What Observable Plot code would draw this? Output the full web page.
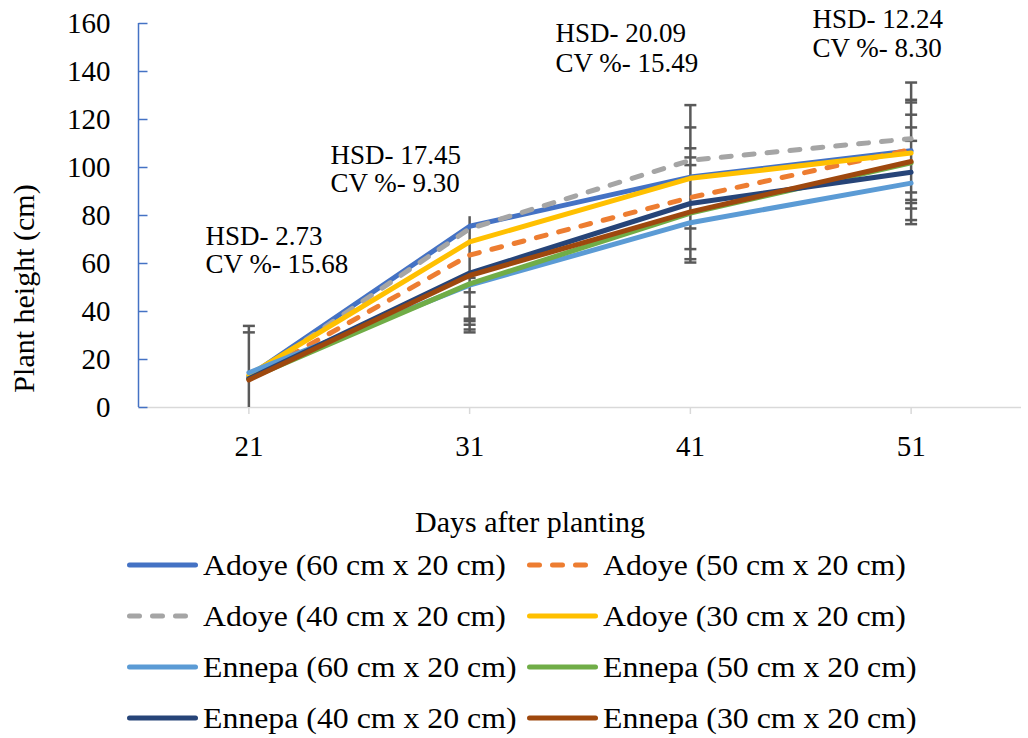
<!DOCTYPE html>
<html>
<head>
<meta charset="utf-8">
<script src="https://cdn.jsdelivr.net/npm/d3@7"></script>
<script src="https://cdn.jsdelivr.net/npm/@observablehq/plot@0.6"></script>
<style>
  html, body { margin: 0; padding: 0; background: #fff; overflow: hidden; }
  body { font-family: "Liberation Serif", "DejaVu Serif", serif; color: #000; }
  #legend { position: relative; width: 1028px; height: 203px; }
  .item { position: absolute; display: flex; align-items: center; height: 51px; font-size: 30px; white-space: nowrap; }
  .item svg { margin-right: 5px; overflow: visible; }
  .item span { display: inline-block; transform: scaleX(1.06); transform-origin: left center; }
</style>
</head>
<body>
<div id="chart"></div>
<div id="legend"></div>
<script>
// ---- data ----
const days = [21, 31, 41, 51];
const seriesNames = [
  "Adoye (60 cm x 20 cm)", "Adoye (50 cm x 20 cm)",
  "Adoye (40 cm x 20 cm)", "Adoye (30 cm x 20 cm)",
  "Ennepa (60 cm x 20 cm)", "Ennepa (50 cm x 20 cm)",
  "Ennepa (40 cm x 20 cm)", "Ennepa (30 cm x 20 cm)"
];
const adoye60 = [13, 75.5, 96, 107];
const adoye50 = [12, 63.5, 87.5, 107.5];
const adoye40 = [12, 74.5, 103, 112];
const adoye30 = [13.5, 69, 95.5, 106];
const ennepa60 = [14.5, 51, 77, 93.5];
const ennepa50 = [12, 51.5, 81, 102];
const ennepa40 = [12, 56, 85, 98];
const ennepa30 = [11.5, 55, 81.5, 102.5];
const hsd = ["2.73", "17.45", "20.09", "12.24"];
const cvPct = ["15.68", "9.30", "15.49", "8.30"];
// error bar extent per day and the cap values seen on each bar
const errTop = [34, 79.5, 126, 135.4];
const errBottom = [0, 31.3, 60.4, 76.4];
const caps21 = [34, 31.3];
const caps31 = [54, 48, 42, 37, 36, 34.5, 32.5, 31.3];
const caps41 = [126, 116.7, 108, 104.2, 101, 74.6, 66, 61.8, 60.4];
const caps51 = [135.4, 128.2, 127.1, 122, 116.7, 111.1, 89.6, 86.5, 85.2, 82.9, 78.1, 76.4];
const yTicks = [0, 20, 40, 60, 80, 100, 120, 140, 160];
const xLabel = "Days after planting";
const yLabel = "Plant height (cm)";

// ---- styles ----
const FONT = "'Liberation Serif', 'DejaVu Serif', serif";
const values = [adoye60, adoye50, adoye40, adoye30, ennepa60, ennepa50, ennepa40, ennepa30];
const colors = ["#4472C4", "#ED7D31", "#A5A5A5", "#FFC000", "#5B9BD5", "#70AD47", "#264478", "#9E480E"];
const dashed = [false, true, true, false, false, false, false, false];
const DASH = "10,13";
const LW = 5;

const rows = seriesNames.map((name, i) => days.map((d, j) => ({name, day: d, value: values[i][j]})));
const bars = days.map((d, j) => ({day: d, lo: errBottom[j], hi: errTop[j]}));
const capRows = [caps21, caps31, caps41, caps51].flatMap((cs, j) => cs.map(v => ({day: days[j], v})));

const capSymbol = {draw(ctx) { ctx.moveTo(-6, 0); ctx.lineTo(6, 0); }};
const inTick = {draw(ctx) { ctx.moveTo(0, 0); ctx.lineTo(9, 0); }};

// annotation layout (positions in data units of the chart)
const annX = [19.04, 24.7, 34.89, 46.53];
const annY1 = [71.5, 104.9, 156.1, 161.9];
const annY2 = [59.8, 93.2, 143.2, 149.5];
const ann1 = days.map((d, j) => ({x: annX[j], y: annY1[j], t: "HSD- " + hsd[j]}));
const ann2 = days.map((d, j) => ({x: annX[j], y: annY2[j], t: "CV %- " + cvPct[j]}));

const marks = [
  Plot.ruleY([0], {stroke: "#d9d9d9", strokeWidth: 1.5}),
  Plot.axisX({ticks: days, tickSize: 7, stroke: "#d9d9d9", text: null, strokeWidth: 1.5}),
  Plot.axisX({ticks: days, tickSize: 0, tickPadding: 28, fontSize: 29, fill: "#000", label: null}),
  Plot.axisY({ticks: yTicks, tickSize: 0, tickPadding: 28, fontSize: 29, fill: "#000", label: null}),
  Plot.ruleX([16], {y1: 0, y2: 160, stroke: "#4472C4", strokeWidth: 1.5}),
  Plot.dot(yTicks, {x: 16, y: d => d, symbol: inTick, stroke: "#4472C4", strokeWidth: 1.5, fill: "none", r: 5}),
  Plot.ruleX(bars, {x: "day", y1: "lo", y2: "hi", stroke: "#595959", strokeWidth: 2.5}),
  Plot.dot(capRows, {x: "day", y: "v", symbol: capSymbol, stroke: "#595959", strokeWidth: 2.5, fill: "none", r: 5}),
  ...rows.map((r, i) => Plot.line(r, {
    x: "day", y: "value", stroke: colors[i], strokeWidth: LW,
    strokeDasharray: dashed[i] ? DASH : null, strokeLinecap: "round", strokeLinejoin: "round"
  })),
  Plot.text(ann1, {x: "x", y: "y", text: "t", textAnchor: "start", fontSize: 27, fill: "#000"}),
  Plot.text(ann2, {x: "x", y: "y", text: "t", textAnchor: "start", fontSize: 27, fill: "#000"}),
  Plot.text([xLabel], {frameAnchor: "bottom", textAnchor: "middle", lineAnchor: "middle", dx: -50, dy: 115, fontSize: 30, fill: "#000"}),
  Plot.text([yLabel], {frameAnchor: "left", textAnchor: "middle", lineAnchor: "middle", rotate: -90, dx: -114, dy: 73, fontSize: 30, fill: "#000"})
];

const chart = Plot.plot({
  width: 1028, height: 535,
  marginLeft: 138, marginRight: 7, marginTop: 23, marginBottom: 128,
  x: {type: "linear", domain: [16, 56]},
  y: {domain: [0, 160]},
  style: {fontFamily: FONT, color: "#000", background: "#fff", overflow: "visible"},
  marks
});
document.getElementById("chart").appendChild(chart);

// ---- legend ----
const legend = document.getElementById("legend");
const rowTop0 = 4.5;
seriesNames.forEach((name, i) => {
  const col = i % 2, row = Math.floor(i / 2);
  const div = document.createElement("div");
  div.className = "item";
  div.style.left = (127 + col * 400) + "px";
  div.style.top = (rowTop0 + row * 51) + "px";
  div.innerHTML = `<svg width="71" height="10"><line x1="2.5" y1="5" x2="68.5" y2="5" stroke="${colors[i]}" stroke-width="${LW}" stroke-linecap="round" ${dashed[i] ? `stroke-dasharray="${DASH}"` : ""}/></svg><span>${name}</span>`;
  legend.appendChild(div);
});
</script>
</body>
</html>
